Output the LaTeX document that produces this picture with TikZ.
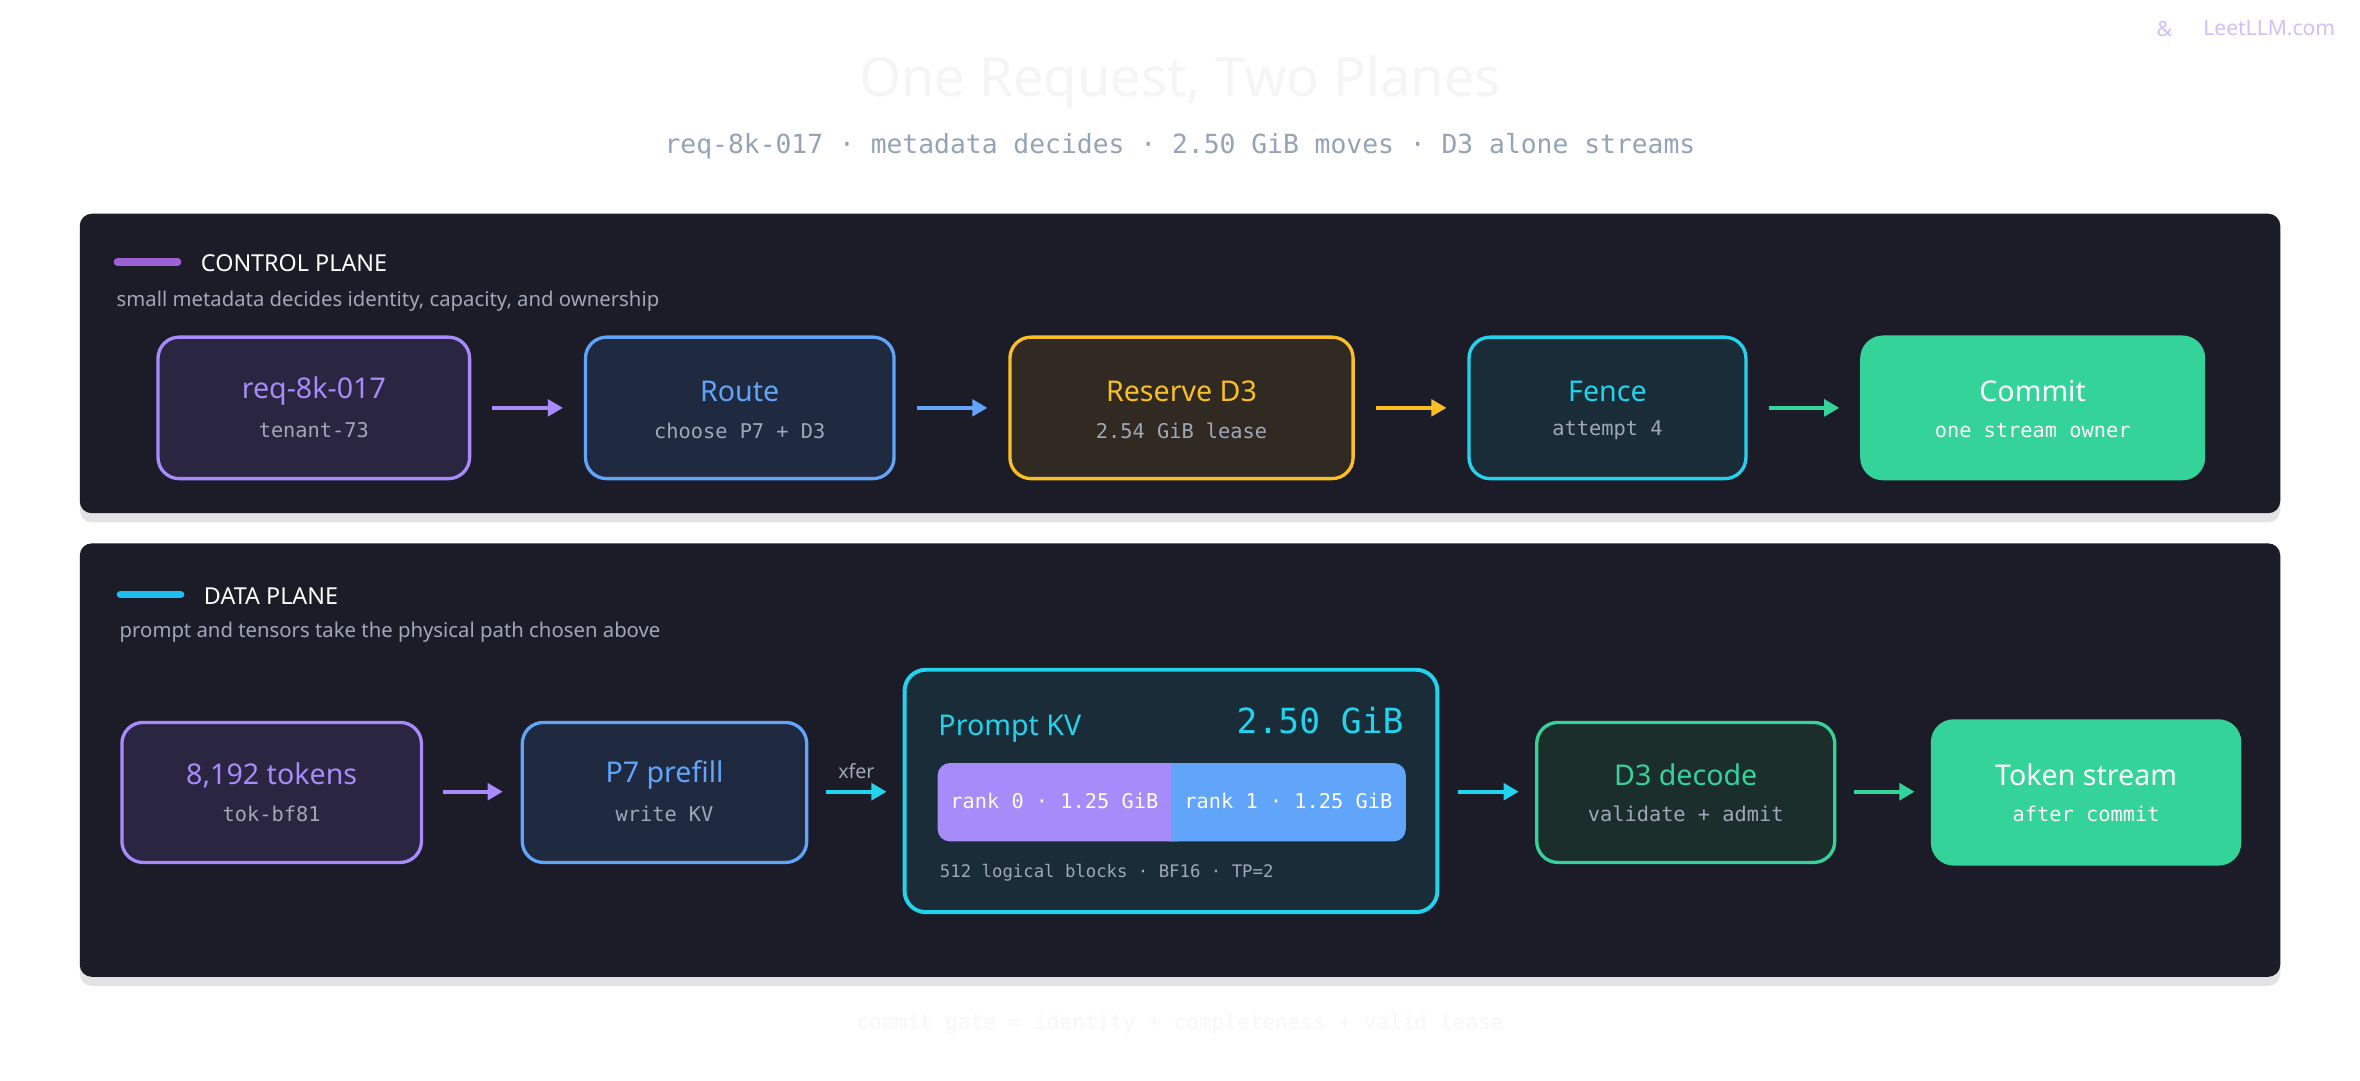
\documentclass[tikz,border=0pt]{standalone}
\usepackage{fontspec}
\setmainfont{Noto Sans}
\newfontfamily\mono{DejaVu Sans Mono}
\usetikzlibrary{shadows,arrows.meta}
\definecolor{panel}{HTML}{1C1C28}
\definecolor{pur}{HTML}{A78BFA}
\definecolor{blu}{HTML}{60A5FA}
\definecolor{amb}{HTML}{FBBF24}
\definecolor{cya}{HTML}{22D3EE}
\definecolor{grn}{HTML}{34D399}
\definecolor{gry}{HTML}{94A3B8}
\definecolor{lgry}{HTML}{A0A8B8}
\definecolor{fpur}{HTML}{2A2540}
\definecolor{fblu}{HTML}{1F2A40}
\definecolor{famb}{HTML}{302A22}
\definecolor{fcya}{HTML}{1A2C38}
\definecolor{fgrn}{HTML}{1B2E2C}
\begin{document}
\begin{tikzpicture}[x=1pt,y=-1pt,
 panelS/.style={fill=panel,rounded corners=8pt,draw=none,drop shadow={shadow xshift=0pt,shadow yshift=-6pt,opacity=0.18,fill=black!60}},
 box/.style={rounded corners=14pt,line width=2.2pt,inner sep=0pt},
 ttl/.style={font=\fontsize{19}{22}\selectfont\bfseries},
 sub/.style={font=\mono\fontsize{13.5}{16}\selectfont,text=lgry},
 arr/.style={-{Triangle[length=10pt,width=11pt]},line width=2.4pt,shorten >=0pt},
 hd/.style={font=\fontsize{15.5}{18}\selectfont\bfseries,text=white,anchor=west},
 hs/.style={font=\fontsize{13.5}{16}\selectfont,text=lgry,anchor=west}]
\useasboundingbox (0,0) rectangle (1568,717.6);
\fill[white] (0,0) rectangle (1568,717.6);
\node[font=\fontsize{36}{40}\selectfont\bfseries,text=gray!8] (title) at (784,55) {One Request, Two Planes};
\node[font=\mono\fontsize{17.5}{20}\selectfont,text=gry] (subt) at (784,97) {req-8k-017 · metadata decides · 2.50 GiB moves · D3 alone streams};
\node[font=\fontsize{14}{16}\selectfont\bfseries,text=pur!55,anchor=east] (logo) at (1555,19) {LeetLLM.com};
\node[font=\fontsize{14}{16}\selectfont\bfseries,text=pur!55] (logoi) at (1438,19) {\&};
% panels
\path[panelS] (53,142) rectangle (1515,341);
\path[panelS] (53,361) rectangle (1515,649);
\node[font=\mono\fontsize{14}{16}\selectfont,text=gray!6] (foot) at (784,680) {commit gate = identity + completeness + valid lease};
% control header
\draw[line width=5pt,line cap=round,color=pur!70!violet] (78,174) -- (118,174);
\node[hd] (ch) at (130,175) {CONTROL PLANE};
\node[hs] (cs) at (74,200) {small metadata decides identity, capacity, and ownership};
% control nodes
\node[box,draw=pur,fill=fpur,minimum width=207pt,minimum height=94pt] (n1) at (208.5,271) {};
\node[ttl,text=pur] at (208.5,260) {req-8k-017}; \node[sub] at (208.5,286) {tenant-73};
\node[box,draw=blu,fill=fblu,minimum width=205pt,minimum height=94pt] (n2) at (491.5,271) {};
\node[ttl,text=blu] at (491.5,260) {Route}; \node[sub] at (491.5,286) {choose P7 + D3};
\node[box,draw=amb,fill=famb,minimum width=228pt,minimum height=94pt] (n3) at (785,271) {};
\node[ttl,text=amb] at (785,260) {Reserve D3}; \node[sub] at (785,286) {2.54 GiB lease};
\node[box,draw=cya,fill=fcya,minimum width=184pt,minimum height=94pt] (n4) at (1068,271) {};
\node[ttl,text=cya] at (1068,260) {Fence}; \node[sub] at (1068,286) {attempt 4};
\node[box,draw=grn,fill=grn,minimum width=227pt,minimum height=94pt] (n5) at (1350.5,271) {};
\node[ttl,text=white] at (1350.5,260) {Commit}; \node[sub,text=white] at (1350.5,286) {one stream owner};
\draw[arr,pur] (327,271) -- (374,271);
\draw[arr,blu] (609,271) -- (656,271);
\draw[arr,amb] (914,271) -- (961,271);
\draw[arr,grn] (1175,271) -- (1222,271);
% data header
\draw[line width=5pt,line cap=round,color=cya!90!blue] (80,395) -- (120,395);
\node[hd] (dh) at (132,396) {DATA PLANE};
\node[hs] (ds) at (76,420) {prompt and tensors take the physical path chosen above};
% data nodes
\node[box,draw=pur,fill=fpur,minimum width=199pt,minimum height=93pt] (d1) at (180.5,526.5) {};
\node[ttl,text=pur] at (180.5,515) {8,192 tokens}; \node[sub] at (180.5,541) {tok-bf81};
\node[box,draw=blu,fill=fblu,minimum width=189pt,minimum height=93pt] (d2) at (441.5,526.5) {};
\node[ttl,text=blu] at (441.5,515) {P7 prefill}; \node[sub] at (441.5,541) {write KV};
\node[box,draw=cya,fill=fcya,line width=2.6pt,minimum width=354pt,minimum height=161pt] (kv) at (778,525.5) {};
\node[ttl,text=cya,anchor=west] at (620,484) {Prompt KV};
\node[font=\mono\fontsize{23}{26}\selectfont,text=cya,anchor=east] at (936,479) {2.50 GiB};
\fill[pur,rounded corners=8pt] (623,507) rectangle (790,559);
\fill[blu,rounded corners=8pt] (770,507) rectangle (934,559);
\fill[pur] (770,507) rectangle (778,559);
\fill[blu] (778,507) rectangle (790,559);
\node[font=\mono\fontsize{13.5}{16}\selectfont,text=white] at (700.5,532) {rank 0 · 1.25 GiB};
\node[font=\mono\fontsize{13.5}{16}\selectfont,text=white] at (856,532) {rank 1 · 1.25 GiB};
\node[font=\mono\fontsize{11.5}{14}\selectfont,text=lgry,anchor=west] at (621,580) {512 logical blocks · BF16 · TP=2};
\node[box,draw=grn,fill=fgrn,minimum width=198pt,minimum height=93pt] (d4) at (1120,526.5) {};
\node[ttl,text=grn] at (1120,515) {D3 decode}; \node[sub] at (1120,541) {validate + admit};
\node[box,draw=grn,fill=grn,minimum width=204pt,minimum height=95pt] (d5) at (1386,526.5) {};
\node[ttl,text=white] at (1386,515) {Token stream}; \node[sub,text=white] at (1386,541) {after commit};
\draw[arr,pur] (294,526) -- (334,526);
\draw[arr,cya] (549,526) -- (589,526);
\node[font=\fontsize{13}{15}\selectfont,text=lgry] at (569,512) {xfer};
\draw[arr,cya] (969,526) -- (1009,526);
\draw[arr,grn] (1232,526) -- (1272,526);
\end{tikzpicture}
\end{document}
